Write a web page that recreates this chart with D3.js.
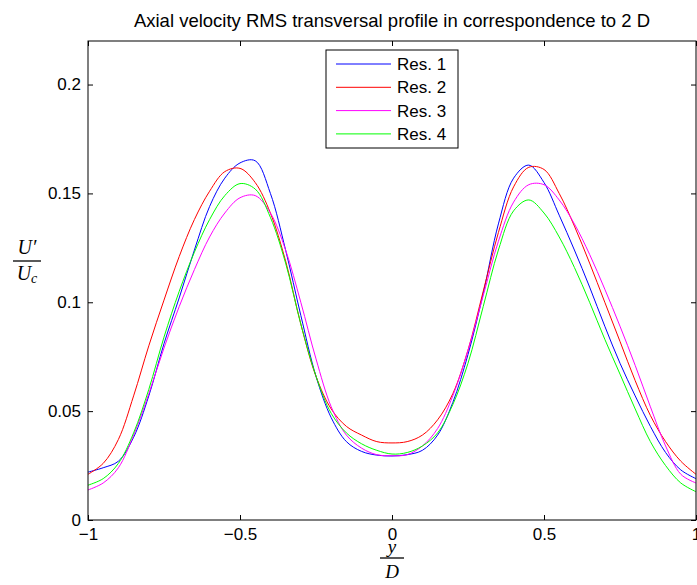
<!DOCTYPE html>
<html>
<head>
<meta charset="utf-8">
<script src="https://cdn.jsdelivr.net/npm/d3@7"></script>
<style>
  body { margin: 0; background: #fff; }
  svg text { font-family: "Liberation Sans", Arial, sans-serif; }
</style>
</head>
<body>
<div id="chart"></div>
<script>
// transversal positions y/D
const xs = [-1, -0.95, -0.9, -0.85, -0.8, -0.75, -0.7, -0.65, -0.6, -0.55, -0.5,
  -0.45, -0.4, -0.35, -0.3, -0.25, -0.2, -0.15, -0.1, -0.05, 0,
  0.05, 0.1, 0.15, 0.2, 0.25, 0.3, 0.35, 0.4, 0.45, 0.5,
  0.55, 0.6, 0.65, 0.7, 0.75, 0.8, 0.85, 0.9, 0.95, 1];

const res1 = [0.022, 0.024, 0.027, 0.038, 0.057, 0.081, 0.102, 0.124, 0.144, 0.157, 0.164,
  0.165, 0.150, 0.124, 0.094, 0.066, 0.047, 0.036, 0.0315, 0.0298, 0.0294,
  0.030, 0.032, 0.039, 0.054, 0.076, 0.104, 0.136, 0.157, 0.163, 0.155,
  0.140, 0.124, 0.107, 0.089, 0.072, 0.057, 0.043, 0.031, 0.023, 0.019];

const res2 = [0.021, 0.026, 0.037, 0.057, 0.080, 0.101, 0.121, 0.138, 0.151, 0.160, 0.1615,
  0.155, 0.141, 0.119, 0.090, 0.066, 0.051, 0.043, 0.039, 0.036, 0.0354,
  0.036, 0.039, 0.046, 0.058, 0.078, 0.105, 0.132, 0.153, 0.162, 0.161,
  0.150, 0.135, 0.118, 0.100, 0.082, 0.064, 0.048, 0.036, 0.027, 0.021];

const res3 = [0.0138, 0.017, 0.024, 0.039, 0.058, 0.079, 0.098, 0.115, 0.130, 0.141, 0.148,
  0.149, 0.141, 0.124, 0.100, 0.074, 0.052, 0.039, 0.033, 0.030, 0.0295,
  0.030, 0.034, 0.042, 0.057, 0.078, 0.103, 0.128, 0.146, 0.154, 0.154,
  0.147, 0.136, 0.122, 0.106, 0.089, 0.071, 0.052, 0.034, 0.021, 0.017];

const res4 = [0.016, 0.019, 0.026, 0.040, 0.060, 0.084, 0.105, 0.123, 0.138, 0.149, 0.1545,
  0.152, 0.139, 0.118, 0.090, 0.066, 0.049, 0.040, 0.035, 0.032, 0.0303,
  0.031, 0.034, 0.040, 0.053, 0.072, 0.098, 0.124, 0.142, 0.147, 0.141,
  0.130, 0.116, 0.100, 0.083, 0.067, 0.051, 0.036, 0.025, 0.017, 0.013];

const names = ["Res. 1", "Res. 2", "Res. 3", "Res. 4"];
const series = [res1, res2, res3, res4];
const colors = ["#0000ff", "#ff0000", "#ff00ff", "#00ff00"];

const xTicks = [-1, -0.5, 0, 0.5, 1];
const xTickLabels = ["\u22121", "\u22120.5", "0", "0.5", "1"];
const yTicks = [0, 0.05, 0.1, 0.15, 0.2];
const yTickLabels = ["0", "0.05", "0.1", "0.15", "0.2"];

const W = 697, H = 585;
const m = { left: 88, right: 1, top: 41, bottom: 65 };

const svg = d3.select("#chart").append("svg")
  .attr("width", W).attr("height", H);

const x = d3.scaleLinear().domain([-1, 1]).range([m.left, W - m.right]);
const y = d3.scaleLinear().domain([0, 0.22]).range([H - m.bottom, m.top]);

// lines
const line = d3.line()
  .x((d, i) => x(xs[i]))
  .y(d => y(d))
  .curve(d3.curveCatmullRom.alpha(0.5));

const plot = svg.append("g");
series.forEach((s, i) => {
  plot.append("path")
    .attr("d", line(s))
    .attr("fill", "none")
    .attr("stroke", colors[i])
    .attr("stroke-width", 1);
});

// axes, MATLAB style: inward ticks, box on all sides
const tick = 5;
const axB = d3.axisBottom(x).tickValues(xTicks).tickSizeInner(-tick).tickSizeOuter(0)
  .tickFormat((d, i) => xTickLabels[i]).tickPadding(8);
const axT = d3.axisTop(x).tickValues(xTicks).tickSizeInner(-tick).tickSizeOuter(0).tickFormat("");
const axL = d3.axisLeft(y).tickValues(yTicks).tickSizeInner(-tick).tickSizeOuter(0)
  .tickFormat((d, i) => yTickLabels[i]).tickPadding(7);
const axR = d3.axisRight(y).tickValues(yTicks).tickSizeInner(-tick).tickSizeOuter(0).tickFormat("");

function style(g) {
  g.select(".domain").remove();
  g.selectAll("line").attr("stroke", "#000");
  g.selectAll("text").attr("fill", "#000").style("font-size", "17px");
}
svg.append("g").attr("transform", `translate(0,${H - m.bottom})`).call(axB).call(style);
svg.append("g").attr("transform", `translate(0,${m.top})`).call(axT).call(style);
svg.append("g").attr("transform", `translate(${m.left},0)`).call(axL).call(style);
svg.append("g").attr("transform", `translate(${W - m.right},0)`).call(axR).call(style);

svg.append("rect")
  .attr("x", m.left).attr("y", m.top)
  .attr("width", W - m.right - m.left).attr("height", H - m.bottom - m.top)
  .attr("fill", "none").attr("stroke", "#000").attr("stroke-width", 1);

// title
svg.append("text")
  .attr("x", (m.left + W - m.right) / 2).attr("y", 27)
  .attr("text-anchor", "middle")
  .style("font-size", "18.5px")
  .text("Axial velocity RMS transversal profile in correspondence to 2 D");

// y label: U'/U_c
const serif = "'Liberation Serif', 'DejaVu Serif', serif";
const yl = svg.append("g").style("font-style", "italic").style("font-size", "20px");
yl.append("text").attr("x", 27).attr("y", 254).attr("text-anchor", "middle")
  .style("font-family", serif).text("U\u2032");
yl.append("line").attr("x1", 13).attr("x2", 41).attr("y1", 261).attr("y2", 261)
  .attr("stroke", "#000").attr("stroke-width", 1.3);
const den = yl.append("text").attr("x", 27).attr("y", 280).attr("text-anchor", "middle")
  .style("font-family", serif);
den.append("tspan").text("U");
den.append("tspan").attr("dy", 3).style("font-size", "14px").text("c");

// x label: y/D
const xl = svg.append("g").style("font-style", "italic").style("font-size", "19px");
xl.append("text").attr("x", 392).attr("y", 553).attr("text-anchor", "middle")
  .style("font-family", serif).text("y");
xl.append("line").attr("x1", 380).attr("x2", 404).attr("y1", 558).attr("y2", 558)
  .attr("stroke", "#000").attr("stroke-width", 1.3);
xl.append("text").attr("x", 392).attr("y", 578).attr("text-anchor", "middle")
  .style("font-family", serif).text("D");

// legend
const lg = svg.append("g");
lg.append("rect").attr("x", 326).attr("y", 50).attr("width", 132).attr("height", 98)
  .attr("fill", "#fff").attr("stroke", "#000").attr("stroke-width", 1);
names.forEach((n, i) => {
  const yy = 64 + i * 23.3;
  lg.append("line").attr("x1", 336).attr("x2", 391).attr("y1", yy).attr("y2", yy)
    .attr("stroke", colors[i]).attr("stroke-width", 1);
  lg.append("text").attr("x", 397).attr("y", yy).attr("dy", "0.35em")
    .style("font-size", "17px").text(n);
});
</script>
</body>
</html>
